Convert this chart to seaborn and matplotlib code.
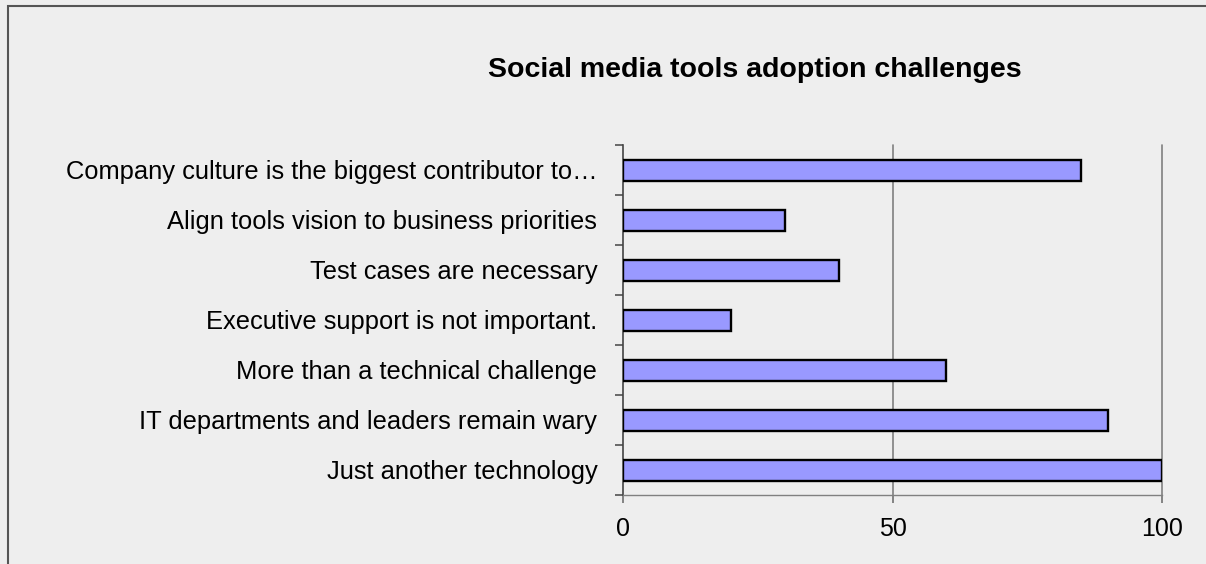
import matplotlib
matplotlib.use("Agg")
import matplotlib.pyplot as plt
import seaborn as sns
import pandas as pd
from matplotlib.patches import Rectangle
from matplotlib.ticker import FixedLocator

# data (top to bottom)
challenges = [
    "Company culture is the biggest contributor to\u2026",
    "Align tools vision to business priorities",
    "Test cases are necessary",
    "Executive support is not important.",
    "More than a technical challenge",
    "IT departments and leaders remain wary",
    "Just another technology",
]
scores = [85, 30, 40, 20, 60, 90, 100]
x_ticks = [0, 50, 100]

bg = "#eeeeee"
sns.set_style("white")
plt.rcParams["font.family"] = ["Liberation Sans", "DejaVu Sans"]

df = pd.DataFrame({"challenge": challenges, "score": scores})

fig = plt.figure(figsize=(12.06, 5.64), dpi=100, facecolor=bg)
ax = fig.add_axes([623 / 1206, 1 - 495 / 564, (1162 - 623) / 1206, (495 - 145) / 564])
ax.set_facecolor(bg)

sns.barplot(data=df, x="score", y="challenge", orient="h", color="#9999ff",
            edgecolor="black", linewidth=1.7, width=0.42, saturation=1, ax=ax, zorder=3)

ax.set_xlim(0, 100)
ax.set_ylim(len(challenges) - 0.5, -0.5)
ax.set_xticks(x_ticks)
ax.set_xlabel("")
ax.set_ylabel("")

# vertical gridlines
for v in x_ticks[1:]:
    ax.axvline(v, color="#808080", lw=1.2, zorder=1, clip_on=False)

for s in ["top", "right"]:
    ax.spines[s].set_visible(False)
ax.spines["left"].set_color("#444444")
ax.spines["bottom"].set_color("#808080")
ax.spines["left"].set_linewidth(1.2)
ax.spines["bottom"].set_linewidth(1.0)

# y ticks on category boundaries
ax.yaxis.set_minor_locator(FixedLocator([i - 0.5 for i in range(len(challenges) + 1)]))
ax.tick_params(axis="y", which="major", left=True, length=0, pad=18.5, labelsize=18.4,
               labelcolor="black")
ax.tick_params(axis="y", which="minor", left=True, length=6, width=1.1, color="#444444",
               direction="out")
ax.tick_params(axis="x", which="major", bottom=True, length=6, width=1.1, color="#666666",
               direction="out", pad=10, labelsize=18, labelcolor="black")

fig.text(755 / 1206, 1 - 77 / 564, "Social media tools adoption challenges",
         ha="center", va="baseline", fontsize=20.5, fontweight="bold", color="black")

# outer frame (left and top edges visible)
fig.patches.append(Rectangle((8 / 1206, -0.1), 1.2, 1 - 6 / 564 + 0.1, transform=fig.transFigure,
                             fill=False, edgecolor="#555555", linewidth=1.5))

fig.savefig("out.png", dpi=100, facecolor=bg)
